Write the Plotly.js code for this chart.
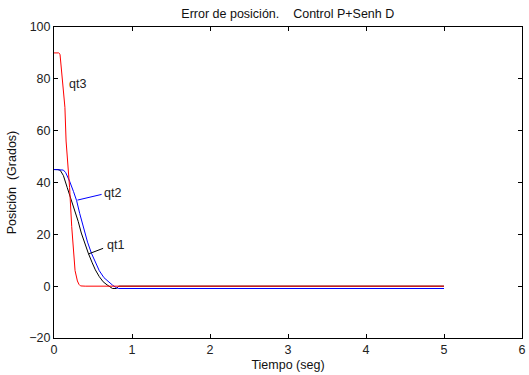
<!DOCTYPE html>
<html>
<head>
<meta charset="utf-8">
<script src="https://cdn.plot.ly/plotly-3.0.1.min.js"></script>
<style>html,body{margin:0;padding:0;background:#fff;}#chart{width:529px;height:375px;}</style>
</head>
<body>
<div id="chart"></div>
<script>
// qt1 (black)
var tQt1 = [0, 0.05, 0.08, 0.12, 0.17, 0.227, 0.27, 0.31, 0.35, 0.4, 0.44, 0.49, 0.53, 0.58, 0.63, 0.68, 0.72, 0.75, 0.8, 0.83, 1.0, 5.0];
var vQt1 = [45, 45, 44.7, 42.7, 38, 33, 29, 25, 20.5, 16, 12.7, 9, 6.3, 3.7, 1.7, 0.5, -0.3, -0.9, -0.9, 0, 0, 0];
// qt2 (blue)
var tQt2 = [0, 0.08, 0.12, 0.15, 0.17, 0.2, 0.25, 0.29, 0.33, 0.38, 0.43, 0.48, 0.53, 0.58, 0.64, 0.70, 0.75, 0.80, 0.83, 1.0, 5.0];
var vQt2 = [45, 45, 44.8, 43.8, 42.7, 40.5, 36.5, 33, 28, 22, 17, 12.7, 9, 6, 3.3, 1.5, 0.4, -0.6, -0.9, -0.9, -0.9];
// qt3 (red)
var tQt3 = [0, 0.06, 0.077, 0.1, 0.14, 0.155, 0.18, 0.2, 0.227, 0.248, 0.27, 0.3, 0.32, 0.34, 0.4, 1.0, 5.0];
var vQt3 = [90, 90, 89.5, 82, 69, 56, 47, 38, 23, 13, 6, 2, 0.7, 0.1, 0, 0, 0];

var titleText = 'Error de posición.\u00a0\u00a0\u00a0 Control P+Senh D';
var xTitle = 'Tiempo (seg)';
var yTitle = 'Posición\u00a0 (Grados)';
var seriesNames = ['qt1', 'qt2', 'qt3'];

var font = 'Liberation Sans, Arial, sans-serif';

var traces = [
  {x: tQt1, y: vQt1, mode: 'lines', line: {color: '#000000', width: 1}, name: seriesNames[0]},
  {x: tQt2, y: vQt2, mode: 'lines', line: {color: '#0000ff', width: 1}, name: seriesNames[1]},
  {x: tQt3, y: vQt3, mode: 'lines', line: {color: '#ff0000', width: 1}, name: seriesNames[2]}
];

var axisCommon = {
  showline: true, linecolor: '#000', linewidth: 1, mirror: 'ticks',
  ticks: 'inside', ticklen: 4, tickcolor: '#000', tickwidth: 1,
  showgrid: false, zeroline: false,
  tickfont: {family: font, size: 12.5, color: '#222'}
};

var layout = {
  width: 529, height: 375,
  margin: {l: 54, r: 7, t: 27, b: 37},
  paper_bgcolor: '#fff', plot_bgcolor: '#fff',
  showlegend: false,
  title: {text: titleText, font: {family: font, size: 12.5, color: '#111'}, x: 0.544, xanchor: 'center', y: 0.965, yanchor: 'middle', yref: 'container'},
  xaxis: Object.assign({}, axisCommon, {range: [0, 6], dtick: 1, tick0: 0,
    title: {text: xTitle, font: {family: font, size: 12.5, color: '#111'}, standoff: 4}}),
  yaxis: Object.assign({}, axisCommon, {range: [-20, 100], dtick: 20, tick0: 0,
    title: {text: yTitle, font: {family: font, size: 12.5, color: '#111'}, standoff: 9}}),
  shapes: [
    {type: 'line', xref: 'x', yref: 'y', x0: 0.30, y0: 33.2, x1: 0.61, y1: 35.4, line: {color: '#0000ff', width: 1}},
    {type: 'line', xref: 'x', yref: 'y', x0: 0.44, y0: 12.4, x1: 0.63, y1: 14.6, line: {color: '#000000', width: 1}}
  ],
  annotations: [
    {x: 0.165, y: 78, xref: 'x', yref: 'y', text: seriesNames[2], showarrow: false, xanchor: 'left', yanchor: 'middle', font: {family: font, size: 12.5, color: '#222'}},
    {x: 0.62, y: 36, xref: 'x', yref: 'y', text: seriesNames[1], showarrow: false, xanchor: 'left', yanchor: 'middle', font: {family: font, size: 12.5, color: '#222'}},
    {x: 0.65, y: 16, xref: 'x', yref: 'y', text: seriesNames[0], showarrow: false, xanchor: 'left', yanchor: 'middle', font: {family: font, size: 12.5, color: '#222'}}
  ]
};

Plotly.newPlot('chart', traces, layout, {displayModeBar: false, staticPlot: true});
</script>
</body>
</html>
